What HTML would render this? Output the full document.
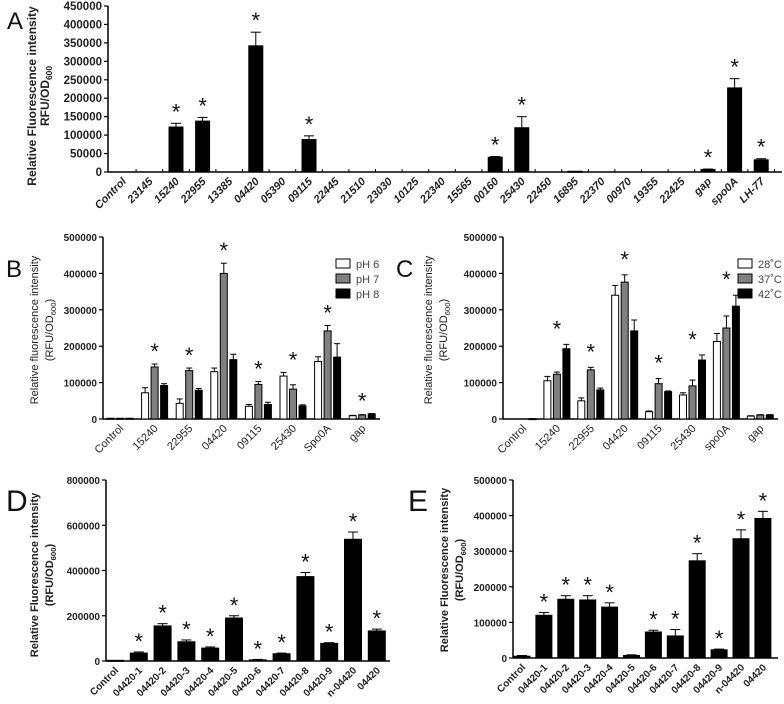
<!DOCTYPE html>
<html><head><meta charset="utf-8"><style>
html,body{margin:0;padding:0;background:#fff}
svg{display:block;font-family:"Liberation Sans",Arial,sans-serif}
</style></head><body>
<svg id="fig" width="784" height="704" viewBox="0 0 784 704" xmlns="http://www.w3.org/2000/svg"></svg>
<script>
// ---- Panel A data ----
const catsA = ["Control","23145","15240","22955","13385","04420","05390","09115","22445","21510","23030","10125","22340","15565","00160","25430","22450","16895","22370","00970","19355","22425","gap","spo0A","LH-77"];
const valsA = [0,0,122000,138000,0,342000,0,88000,0,0,0,0,0,0,40000,120000,0,2000,0,0,0,0,7000,228000,33000];
const errsA = [0,0,10000,10000,0,37000,0,10000,0,0,0,0,0,0,2000,30000,0,0,0,0,0,0,1000,25000,3000];
const starA = [0,0,1,1,0,1,0,1,0,0,0,0,0,0,1,1,0,0,0,0,0,0,1,1,1];
const ticksA = [0,50000,100000,150000,200000,250000,300000,350000,400000,450000];
// ---- Panel B data ----
const catsB = ["Control","15240","22955","04420","09115","25430","Spo0A","gap"];
const pH6 = [2000,72000,43000,130000,35000,118000,158000,9000];
const pH7 = [2000,143000,133000,400000,95000,82000,242000,11000];
const pH8 = [2000,92000,79000,163000,40000,36000,170000,14000];
const pH6err = [0,14000,12000,10000,5000,10000,13000,1000];
const pH7err = [0,8000,7000,28000,8000,12000,15000,1000];
const pH8err = [0,5000,5000,15000,6000,3000,37000,1000];
const ticksB = [0,100000,200000,300000,400000,500000];
// ---- Panel C data ----
const catsC = ["Control","15240","22955","04420","09115","25430","spo0A","gap"];
const t28 = [0,105000,50000,340000,20000,66000,213000,8000];
const t37 = [0,123000,135000,376000,97000,91000,250000,11000];
const t42 = [1000,193000,80000,242000,75000,162000,310000,11000];
const t28err = [0,12000,8000,27000,2000,6000,22000,1000];
const t37err = [0,6000,7000,20000,14000,16000,33000,1000];
const t42err = [0,12000,5000,30000,2000,14000,30000,1000];
const ticksC = [0,100000,200000,300000,400000,500000];
// ---- Panel D data ----
const catsD = ["Control","04420-1","04420-2","04420-3","04420-4","04420-5","04420-6","04420-7","04420-8","04420-9","n-04420","04420"];
const valsD = [3000,35000,155000,85000,57000,190000,5000,32000,373000,78000,538000,133000];
const errsD = [0,5000,10000,8000,5000,10000,2000,3000,18000,3000,32000,8000];
const ticksD = [0,200000,400000,600000,800000];
// ---- Panel E data ----
const catsE = ["Control","04420-1","04420-2","04420-3","04420-4","04420-5","04420-6","04420-7","04420-8","04420-9","n-04420","04420"];
const valsE = [5000,120000,165000,163000,143000,7000,73000,62000,273000,23000,335000,392000];
const errsE = [2000,8000,10000,12000,12000,2000,5000,18000,20000,2000,25000,20000];
const ticksE = [0,100000,200000,300000,400000,500000];

const NS="http://www.w3.org/2000/svg";
const fig=document.getElementById('fig');
function mk(tag,attrs,parent,text){const e=document.createElementNS(NS,tag);for(const k in attrs)e.setAttribute(k,attrs[k]);if(text!==undefined)e.textContent=text;(parent||fig).appendChild(e);return e;}

function panel(p){
  const g=mk('g',{});
  
  
  const y=v=>p.y0-(v/p.ymax)*(p.y0-p.ytop);
  const x=i=>p.cx0+i*p.step;
  const ya=mk('line',{x1:p.ax,y1:p.ytop,x2:p.ax,y2:p.y0,stroke:'#000','stroke-width':1.5},g);
  
  
  const xa=mk('line',{x1:p.ax,y1:p.y0,x2:p.xend,y2:p.y0,stroke:'#000','stroke-width':1.5},g);
  
  
  if(p.xticks){
    p.cats.forEach((c,i)=>{const tx=x(i)+p.step/2;mk('line',{x1:tx,y1:p.y0-3,x2:tx,y2:p.y0,stroke:'#000','stroke-width':1},g);});
  }
  p.ticks.forEach(t=>{
    mk('line',{x1:p.ax-4,y1:y(t),x2:p.ax,y2:y(t),stroke:'#000','stroke-width':1.2},g);
    const tl=mk('text',{x:p.ax-6,y:y(t)+4,'text-anchor':'end','font-size':p.tfs,'font-weight':'bold',fill:'#222'},g,String(t));
    
    
  });
  p.cats.forEach((c,i)=>{
    const lx=x(i)+4, ly=p.y0+10;
    const t=mk('text',{x:lx,y:ly,'text-anchor':'end','font-size':p.cfs,'font-weight':p.cbold?'bold':'normal','font-style':p.citalic?'italic':'normal',fill:'#222',transform:`rotate(-45 ${lx} ${ly})`},g,c);
    
    
  });
  const nS=p.series.length;
  p.cats.forEach((c,i)=>{
    let top=0;
    p.series.forEach((s,k)=>{
      const v=s.vals[i], e=s.errs[i];
      const bx=x(i)+(k-(nS-1)/2)*p.sgap-p.bw/2;
      const h=p.y0-y(v);
      if(v>0){
        const r=mk('rect',{x:bx,y:y(v),width:p.bw,height:Math.max(h,1),fill:s.fill,stroke:'#000','stroke-width':1},g);
        
        
      }
      if(e>0){
        const cx=bx+p.bw/2, yt=y(v+e);
        mk('line',{x1:cx,y1:y(v),x2:cx,y2:yt,stroke:'#000','stroke-width':1},g);
        mk('line',{x1:cx-p.cap,y1:yt,x2:cx+p.cap,y2:yt,stroke:'#000','stroke-width':1},g);
      }
      top=Math.max(top,v+e);
    });
    if(p.stars[i]){
      const st=mk('text',{x:x(i),y:y(top)-p.starOff,'text-anchor':'middle','font-size':p.sfs,fill:'#111'},g,'*');
      
      
    }
  });
  const tx=p.titleX, ty=p.titleY;
  const t1=mk('text',{x:tx,y:ty,'text-anchor':'middle','font-size':p.ttfs,'font-weight':p.tbold?'bold':'normal',fill:'#222',transform:`rotate(-90 ${tx} ${ty})`},g,p.title1);
  
  
  const t2=mk('text',{x:tx+p.tgap,y:ty,'text-anchor':'middle','font-size':p.ttfs,'font-weight':p.tbold?'bold':'normal',fill:'#222',transform:`rotate(-90 ${tx+p.tgap} ${ty})`},g);
  
  
  mk('tspan',{},t2,p.title2a);
  mk('tspan',{'font-size':p.ttfs*0.7,dy:3},t2,'600');
  mk('tspan',{dy:-3},t2,p.title2b);
  const L=mk('text',{x:p.lx,y:p.ly,'font-size':p.lfs,fill:'#111'},g,p.letter);
  
  
  if(p.legend){
    p.legend.forEach((s,k)=>{
      const ly=p.legY+k*15;
      const r=mk('rect',{x:p.legX,y:ly-5,width:14,height:9,fill:s.fill,stroke:'#000','stroke-width':1},g);
      
      
      const t=mk('text',{x:p.legX+20,y:ly+4,'font-size':11,fill:'#444'},g,s.label);
      
      
    });
  }
}
panel({name:'panel-a',letter:'A',lx:7,ly:29,lfs:24,cats:catsA,ticks:ticksA,ymax:450000,y0:172,ytop:6,ax:108,xend:782,cx0:122.8,step:26.6,bw:14,sgap:0,cap:5,xticks:true,
  series:[{vals:valsA,errs:errsA,fill:'#000'}],stars:starA,starOff:4,sfs:22,tfs:11.5,cfs:11,cbold:true,citalic:true,
  titleX:36,titleY:96,tgap:13,ttfs:12,tbold:true,title1:'Relative Fluorescence intensity',title2a:'RFU/OD',title2b:''});
panel({name:'panel-b',letter:'B',lx:6,ly:277,lfs:24,cats:catsB,ticks:ticksB,ymax:500000,y0:419,ytop:237,ax:103,xend:380,cx0:120,step:34.6,bw:7,sgap:9.5,cap:3,
  series:[{vals:pH6,errs:pH6err,fill:'#fff'},{vals:pH7,errs:pH7err,fill:'#808080'},{vals:pH8,errs:pH8err,fill:'#000'}],stars:[0,1,1,1,1,1,1,1],starOff:5,sfs:22,tfs:10,cfs:11,cbold:false,
  titleX:38,titleY:330,tgap:15,ttfs:11,tbold:false,title1:'Relative fluorescence intensity',title2a:'(RFU/OD',title2b:')',
  legend:[{label:'pH 6',fill:'#fff'},{label:'pH 7',fill:'#808080'},{label:'pH 8',fill:'#000'}],legX:336,legY:264});
panel({name:'panel-c',letter:'C',lx:396,ly:277,lfs:24,cats:catsC,ticks:ticksC,ymax:500000,y0:419,ytop:237,ax:503,xend:778,cx0:523,step:33.9,bw:7,sgap:9.5,cap:3,
  series:[{vals:t28,errs:t28err,fill:'#fff'},{vals:t37,errs:t37err,fill:'#808080'},{vals:t42,errs:t42err,fill:'#000'}],stars:[0,1,1,1,1,1,1,0],starOff:8,sfs:22,tfs:10,cfs:11,cbold:false,
  titleX:432,titleY:330,tgap:15,ttfs:11,tbold:false,title1:'Relative fluorescence intensity',title2a:'(RFU/OD',title2b:')',
  legend:[{label:'28˚C',fill:'#fff'},{label:'37˚C',fill:'#808080'},{label:'42˚C',fill:'#000'}],legX:738,legY:264});
panel({name:'panel-d',letter:'D',lx:6,ly:511,lfs:30,cats:catsD,ticks:ticksD,ymax:800000,y0:661,ytop:480,ax:106,xend:390,cx0:115,step:23.8,bw:17,sgap:0,cap:5,
  series:[{vals:valsD,errs:errsD,fill:'#000'}],stars:[0,1,1,1,1,1,1,1,1,1,1,1],starOff:3,sfs:22,tfs:10,cfs:10,cbold:true,
  titleX:38,titleY:575,tgap:15,ttfs:11,tbold:true,title1:'Relative Fluorescence intensity',title2a:'(RFU/OD',title2b:')'});
panel({name:'panel-e',letter:'E',lx:408,ly:511,lfs:30,cats:catsE,ticks:ticksE,ymax:500000,y0:658,ytop:480,ax:513,xend:778,cx0:522,step:21.9,bw:16,sgap:0,cap:5,
  series:[{vals:valsE,errs:errsE,fill:'#000'}],stars:[0,1,1,1,1,0,1,1,1,1,1,1],starOff:3,sfs:22,tfs:10,cfs:10,cbold:true,
  titleX:448,titleY:570,tgap:15,ttfs:11,tbold:true,title1:'Relative Fluorescence intensity',title2a:'(RFU/OD',title2b:')'});
</script>
</body></html>
